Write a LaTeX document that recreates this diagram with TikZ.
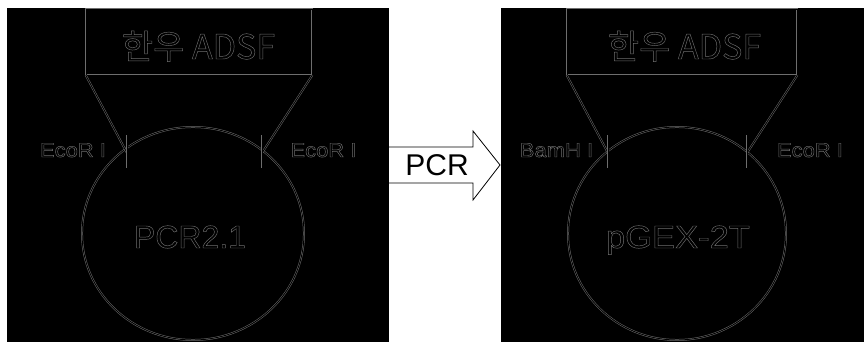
\documentclass[tikz,border=0pt]{standalone}
\usepackage{fontspec}
\setmainfont{Liberation Sans}
\newfontfamily\krfont{Noto Sans CJK KR}
\usetikzlibrary{shapes.geometric}
\definecolor{lgray}{HTML}{6E6E6E}
\newcommand{\outlinetext}[1]{\special{pdf:code 1 Tr 0.45 w}#1\special{pdf:code 0 Tr}}
\begin{document}
\begin{tikzpicture}[x=1pt,y=-1pt,
  dl/.style={draw=lgray, line width=0.5pt, double=black, double distance=0.9pt},
  titletext/.style={text=lgray, font=\krfont\fontsize{34}{34}\selectfont, inner sep=0, anchor=base},
  plasmid/.style={text=lgray, font=\fontsize{32}{32}\selectfont, inner sep=0, anchor=base},
  site/.style={text=lgray, font=\fontsize{20}{20}\selectfont, inner sep=0, anchor=base, xscale=1.1},
  box/.style={dl, rectangle, minimum width=226pt, minimum height=66pt, inner sep=0},
  ring/.style={dl, ellipse, inner sep=0}
]
\useasboundingbox (0,0) rectangle (864,342);
\filldraw[fill=white, draw=white, line width=0.1pt] (0,0) rectangle (864,342);
\filldraw[fill=black, draw=black, line width=0.1pt] (7,8) rectangle (388,342);
\filldraw[fill=black, draw=black, line width=0.1pt] (501,8) rectangle (864,342);

% ---------- left panel ----------
\node[box] (tb1) at (199,42) {};
\node[titletext] (tt1) at (198.5,59) {\outlinetext{한우 ADSF}};
\node[ring, minimum width=222pt, minimum height=213pt] (c1) at (193,233.5) {};
\node[plasmid] (p1) at (190,248) {\outlinetext{PCR2.1}};
\coordinate (a1) at (127,153);
\coordinate (b1) at (262,153);
\coordinate (a1t) at (127,135);
\coordinate (a1b) at (127,168);
\coordinate (b1t) at (262,135);
\coordinate (b1b) at (262,168);
\draw[dl] (tb1.south west) -- (a1);
\draw[dl] (tb1.south east) -- (b1);
\draw[dl] (a1t) -- (a1b);
\draw[dl] (b1t) -- (b1b);
\node[site] (s1) at (73,157) {\outlinetext{EcoR I}};
\node[site] (s2) at (323.5,157) {\outlinetext{EcoR I}};

% ---------- right panel ----------
\node[box, minimum width=230pt] (tb2) at (682,42) {};
\node[titletext] (tt2) at (684.5,59) {\outlinetext{한우 ADSF}};
\node[ring, minimum width=218pt, minimum height=213pt] (c2) at (677,233.5) {};
\node[plasmid, xscale=1.08] (p2) at (678,248) {\outlinetext{pGEX-2T}};
\coordinate (a2) at (608,153);
\coordinate (b2) at (747,153);
\coordinate (a2t) at (608,135);
\coordinate (a2b) at (608,168);
\coordinate (b2t) at (747,135);
\coordinate (b2b) at (747,168);
\draw[dl] (tb2.south west) -- (a2);
\draw[dl] (tb2.south east) -- (b2);
\draw[dl] (a2t) -- (a2b);
\draw[dl] (b2t) -- (b2b);
\node[site] (s3) at (556.5,157) {\outlinetext{BamH I}};
\node[site] (s4) at (810,157) {\outlinetext{EcoR I}};

% ---------- arrow ----------
\draw[black, line width=0.8pt, line join=miter]
  (388,147) -- (473,147) -- (473,131) -- (500,165) -- (473,200) -- (473,183) -- (388,183);
\node[font=\fontsize{30}{30}\selectfont, inner sep=0, anchor=base] (pcr) at (437,175) {PCR};
\end{tikzpicture}
\end{document}
